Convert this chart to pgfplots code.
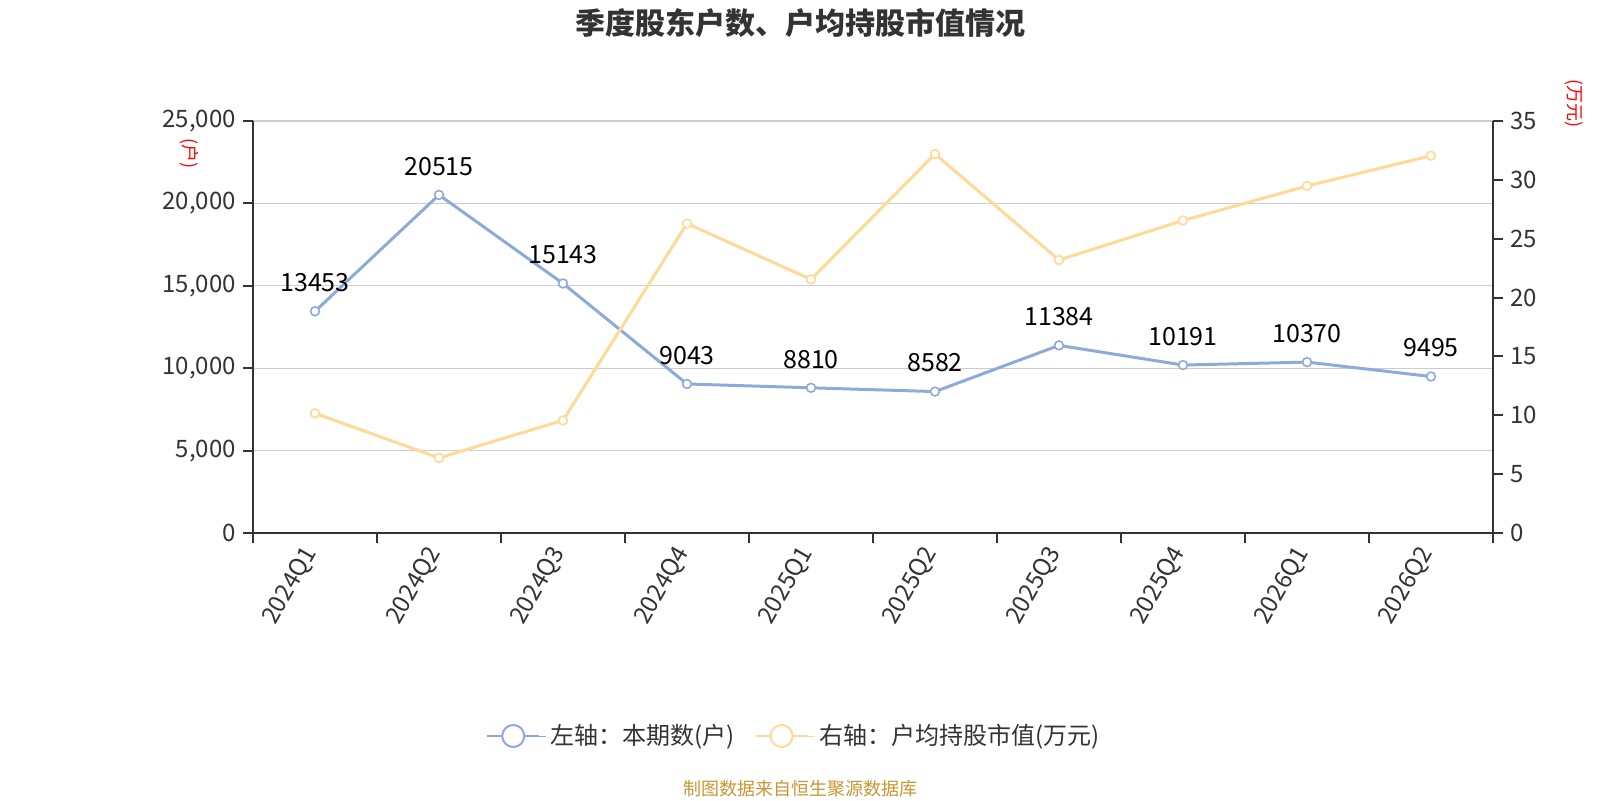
\documentclass[border=0pt]{standalone}
\usepackage{fontspec}
\setmainfont{Noto Sans CJK SC}
\usepackage{pgfplots}
\pgfplotsset{compat=1.18}
\definecolor{blueS}{RGB}{142,170,219}
\definecolor{orangeS}{RGB}{255,217,150}
\definecolor{axisC}{RGB}{51,51,51}
\definecolor{gridC}{RGB}{204,204,204}
\definecolor{srcC}{RGB}{200,150,50}
\begin{document}
\begin{tikzpicture}
\path[use as bounding box] (0,0) rectangle (800pt,400pt);
\pgfplotsset{
  common/.style={
    scale only axis, width=620pt, height=206pt,
    at={(126.5pt,133.5pt)}, anchor=south west,
    xmin=-0.5, xmax=9.5,
    tick align=outside,
    major tick length=5pt,
    tick label style={font=\fontsize{12}{14}\selectfont, text=axisC},
    /pgf/number format/assume math mode=true,
    axis line style={axisC, line width=1pt},
    tick style={axisC, line width=1pt},
  }
}
\begin{axis}[common,
  axis x line*=bottom, axis y line*=left,
  ymin=0, ymax=25000, ytick={0,5000,...,25000},
  yticklabel style={/pgf/number format/.cd, 1000 sep={,}},
  scaled y ticks=false,
  ymajorgrids, grid style={gridC, line width=0.6pt},
  xtick={0,...,9},
  xticklabels={2024Q1,2024Q2,2024Q3,2024Q4,2025Q1,2025Q2,2025Q3,2025Q4,2026Q1,2026Q2},
  minor xtick={-0.5,0.5,...,9.5},
  minor tick length=5pt,
  major x tick style={draw=none},
  xticklabel style={rotate=60, anchor=east},
]
\addplot[blueS, line width=1.5pt, mark=*, mark size=2.2pt,
  mark options={fill=white, draw=blueS, line width=0.8pt},
  nodes near coords, point meta=explicit symbolic,
  every node near coord/.append style={font=\fontsize{12.5}{14}\selectfont, text=black, anchor=base, yshift=9.8pt}]
coordinates {
(0,13453) [13453]
(1,20515) [20515]
(2,15143) [15143]
(3,9043) [9043]
(4,8810) [8810]
(5,8582) [8582]
(6,11384) [11384]
(7,10191) [10191]
(8,10370) [10370]
(9,9495) [9495]
};
\end{axis}
\begin{axis}[common,
  axis x line=none, axis y line*=right,
  ymin=0, ymax=35, ytick={0,5,...,35},
  legend style={at={(0.437,-0.4927)}, anchor=center, draw=none, fill=none,
    legend columns=2, font=\fontsize{12}{14}\selectfont, text=axisC,
    /tikz/every even column/.append style={column sep=8pt}},
  legend cell align=left,
]
\addlegendimage{blueS, legend image code/.code={
  \draw[blueS, line width=0.8pt] (0pt,0pt) -- (26pt,0pt);
  \draw[blueS, fill=white, line width=1pt] (13pt,0pt) circle (5.5pt);
  \path (26pt,0pt) -- (29.5pt,0pt);}}
\addlegendentry{左轴：本期数(户)}
\addlegendimage{orangeS, legend image code/.code={
  \draw[orangeS, line width=0.8pt] (0pt,0pt) -- (26pt,0pt);
  \draw[orangeS, fill=white, line width=1pt] (13pt,0pt) circle (5.5pt);
  \path (26pt,0pt) -- (29.5pt,0pt);}}
\addlegendentry{右轴：户均持股市值(万元)}
\addplot[orangeS, line width=1.5pt, mark=*, mark size=2.2pt,
  mark options={fill=white, draw=orangeS, line width=0.8pt}, forget plot]
coordinates {
(0,10.17) (1,6.38) (2,9.57) (3,26.29) (4,21.55)
(5,32.2) (6,23.19) (7,26.55) (8,29.48) (9,32.05)
};
\end{axis}
\node[font=\bfseries\fontsize{15}{18}\selectfont, text=axisC] at (400pt,388.5pt) {季度股东户数、户均持股市值情况};
\node[font=\fontsize{9}{10}\selectfont, text=red, rotate=-90] at (94.5pt,323pt) {(户)};
\node[font=\fontsize{9}{10}\selectfont, text=red, rotate=-90] at (787pt,348pt) {(万元)};
\node[font=\fontsize{9}{10}\selectfont, text=srcC] at (400pt,5.5pt) {制图数据来自恒生聚源数据库};
\end{tikzpicture}
\end{document}
